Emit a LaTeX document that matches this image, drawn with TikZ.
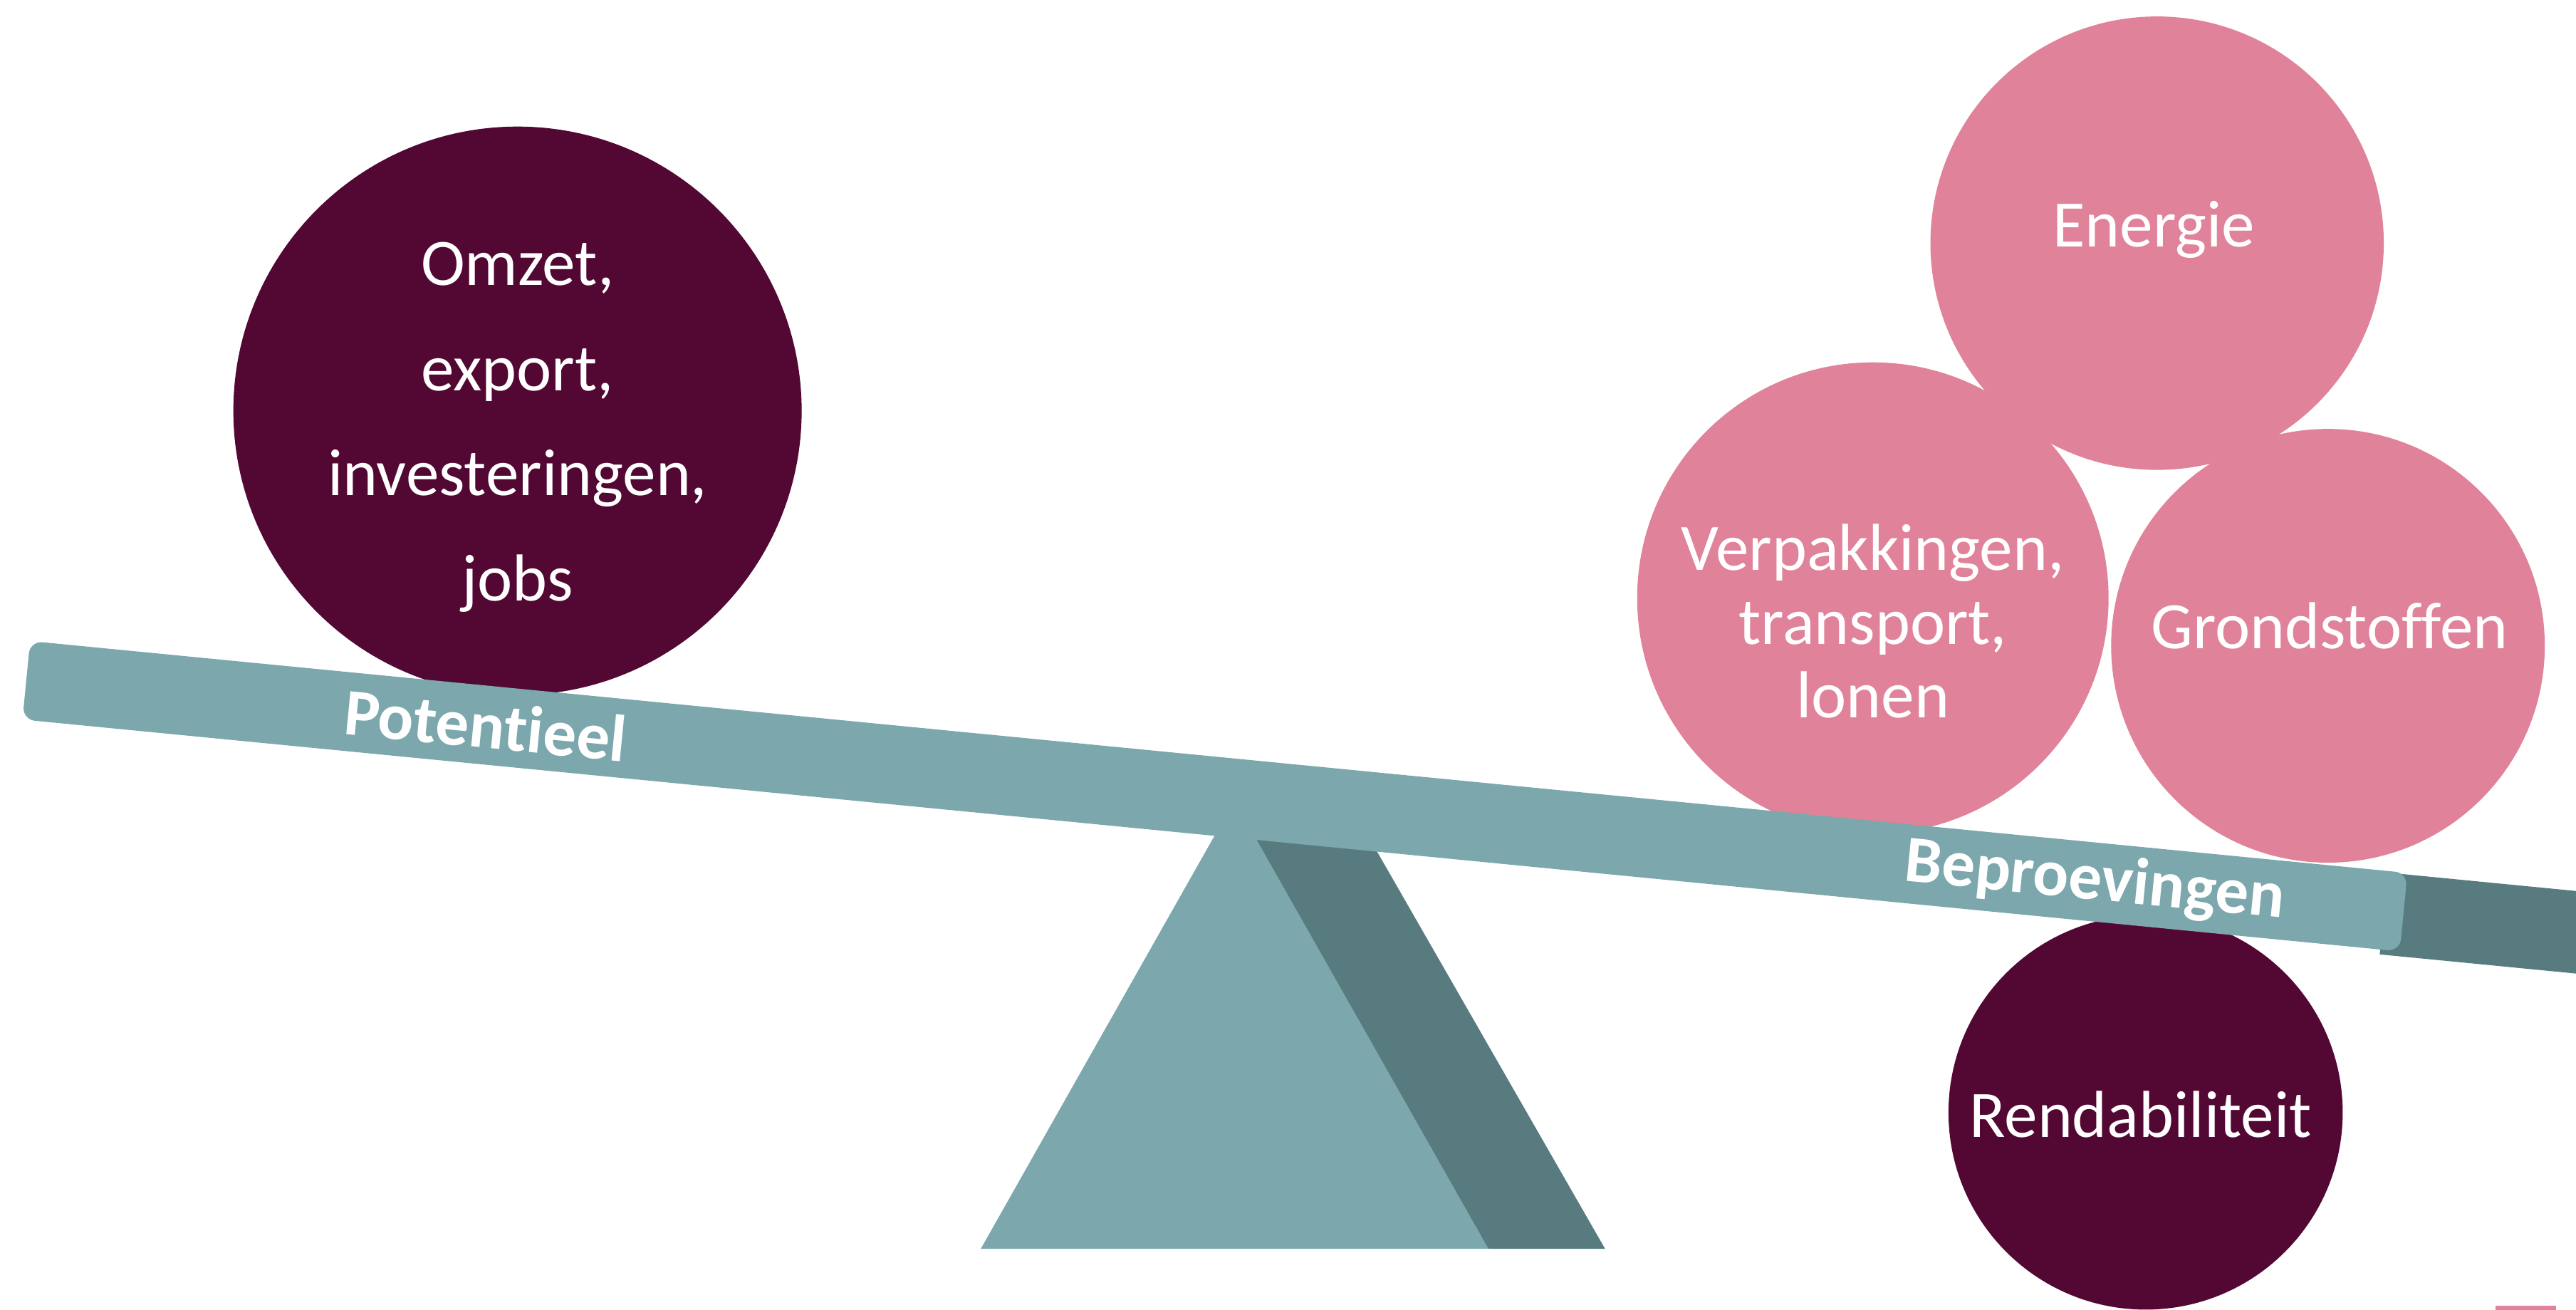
\documentclass[tikz,border=0pt]{standalone}
\usepackage{fontspec}
\setmainfont[Ligatures={NoCommon,NoContextual}]{Carlito}

\definecolor{wijn}{RGB}{83,8,52}
\definecolor{roze}{RGB}{224,130,154}
\definecolor{balk}{RGB}{123,167,173}
\definecolor{balkdonker}{RGB}{87,123,126}

\tikzset{
  bal/.style={circle, inner sep=0pt},
  tekst/.style={text=white, align=center, font=\fontsize{23}{27}\selectfont},
  balktekst/.style={text=white, font=\bfseries\fontsize{23}{27}\selectfont}
}

\begin{document}
\begin{tikzpicture}[x=0.02cm,y=-0.02cm]
 \useasboundingbox (0,0) rectangle (1568,797);
 \clip (0,0) rectangle (1568,797);

 % Steunpunt
 \fill[balk] (597,760) -- (751.5,487) -- (906,760) -- cycle;
 \fill[balkdonker] (753,490) -- (826,497) -- (977,760) -- (906,760) -- cycle;

 % Bollen
 \node[bal, fill=wijn, minimum size=6.92cm] (omzet) at (315,250) {};
 \node[bal, fill=roze, minimum size=5.52cm] (energie) at (1313,148) {};
 \node[bal, fill=roze, minimum size=5.74cm] (verpakkingen) at (1140,364) {};
 \node[bal, fill=roze, minimum size=5.28cm] (grondstoffen) at (1417,393) {};
 \node[bal, fill=wijn, minimum size=4.80cm] (rendabiliteit) at (1306,677) {};

 % Wip
 \begin{scope}[rotate around={-5.57:(16,414)}]
  \fill[balkdonker] (1458,391) rectangle (1700,441);
  \fill[balk, rounded corners=0.15cm] (16,390) rectangle (1470,438);
  \node[balktekst, transform shape] (potentieel) at (297,414) {Potentieel};
  \node[balktekst, transform shape] (beproevingen) at (1281,414) {Beproevingen};
 \end{scope}

 % Teksten
 \node[tekst, font=\fontsize{23}{36.4}\selectfont] (omzet-tekst) at (315,260)
   {Omzet,\\export,\\investeringen,\\jobs};
 \node[tekst] (energie-tekst) at (1311,140) {Energie};
 \node[tekst, font=\fontsize{23}{25.5}\selectfont] (verpakkingen-tekst) at (1140,378)
   {Verpakkingen,\\transport,\\lonen};
 \node[tekst] (grondstoffen-tekst) at (1418,381) {Grondstoffen};
 \node[tekst] (rendabiliteit-tekst) at (1303,678) {Rendabiliteit};

 % Streepje rechtsonder
 \fill[roze] (1519,794.5) rectangle (1556,797);

\end{tikzpicture}
\end{document}
